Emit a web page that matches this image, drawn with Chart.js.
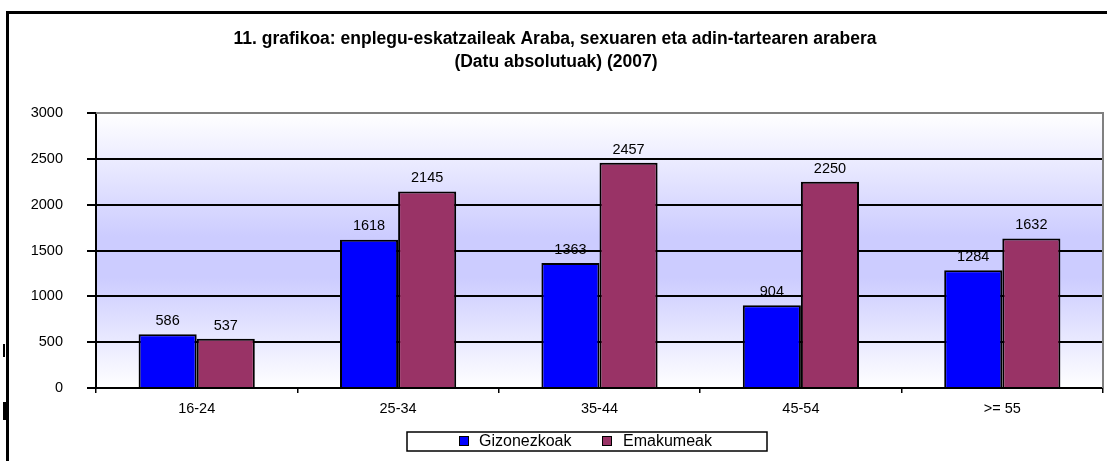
<!DOCTYPE html>
<html>
<head>
<meta charset="utf-8">
<script src="https://cdn.jsdelivr.net/npm/chart.js@4.4.1/dist/chart.umd.min.js"></script>
<style>
html,body{margin:0;padding:0;background:#fff;}
#wrap{width:1107px;height:461px;position:relative;}
</style>
</head>
<body>
<div id="wrap"><canvas id="c" width="1107" height="461"></canvas></div>
<script>
const titleLines = ["11. grafikoa: enplegu-eskatzaileak Araba, sexuaren eta adin-tartearen arabera", "(Datu absolutuak) (2007)"];
const categories = ["16-24", "25-34", "35-44", "45-54", ">= 55"];
const gizonezkoak = [586, 1618, 1363, 904, 1284];
const emakumeak = [537, 2145, 2457, 2250, 1632];
const seriesNames = ["Gizonezkoak", "Emakumeak"];
const seriesColors = ["#0000FF", "#993366"];
const yTicks = [0, 500, 1000, 1500, 2000, 2500, 3000];

const FONT = "'Liberation Sans', Arial, sans-serif";

const decor = {
  id: 'decor',
  beforeDraw(chart) {
    const {ctx, chartArea: a} = chart;
    ctx.save();
    const g = ctx.createLinearGradient(0, a.top, 0, a.bottom);
    g.addColorStop(0, '#FFFFFF');
    g.addColorStop(0.45, '#CCCCFF');
    g.addColorStop(0.6, '#CCCCFF');
    g.addColorStop(1, '#FFFFFF');
    ctx.fillStyle = g;
    ctx.fillRect(a.left, a.top, a.right - a.left, a.bottom - a.top);
    ctx.restore();
  },
  afterDatasetsDraw(chart) {
    const {ctx, chartArea: a} = chart;
    ctx.save();
    ctx.strokeStyle = '#808080';
    ctx.lineWidth = 2;
    ctx.beginPath();
    ctx.moveTo(a.left, a.top); ctx.lineTo(a.right, a.top); ctx.lineTo(a.right, a.bottom);
    ctx.stroke();
    ctx.fillStyle = '#000';
    ctx.font = '14.5px ' + FONT;
    ctx.textAlign = 'center';
    ctx.textBaseline = 'bottom';
    chart.data.datasets.forEach((ds, i) => {
      const meta = chart.getDatasetMeta(i);
      meta.data.forEach((bar, j) => {
        ctx.fillText(String(ds.data[j]), bar.x, bar.y - 6);
      });
    });
    ctx.restore();
  },
  afterDraw(chart) {
    const {ctx} = chart;
    ctx.save();
    ctx.strokeStyle = '#000';
    ctx.lineWidth = 3;
    ctx.beginPath();
    ctx.moveTo(1107, 12.5); ctx.lineTo(7.5, 12.5); ctx.lineTo(7.5, 461);
    ctx.stroke();
    ctx.fillStyle = '#000';
    ctx.fillRect(3, 344, 2, 13);
    ctx.fillRect(3, 402, 3, 18);
    ctx.font = 'bold 17.5px ' + FONT;
    ctx.textAlign = 'center';
    ctx.textBaseline = 'middle';
    ctx.fillText(titleLines[0], 555, 39);
    ctx.fillText(titleLines[1], 556, 62);
    ctx.lineWidth = 1.5;
    ctx.strokeStyle = '#000';
    ctx.strokeRect(407, 432, 360, 19);
    ctx.font = '16px ' + FONT;
    ctx.textAlign = 'left';
    const items = [[459, 479], [602, 623]];
    chart.data.datasets.forEach((ds, i) => {
      const [bx, tx] = items[i];
      ctx.fillStyle = ds.backgroundColor;
      ctx.fillRect(bx, 436, 9, 9);
      ctx.lineWidth = 1;
      ctx.strokeRect(bx + 0.5, 436.5, 9, 9);
      ctx.fillStyle = '#000';
      ctx.fillText(ds.label, tx, 442);
    });
    ctx.restore();
  }
};

new Chart(document.getElementById('c'), {
  type: 'bar',
  data: {
    labels: categories,
    datasets: [
      {label: seriesNames[0], data: gizonezkoak, backgroundColor: seriesColors[0], borderColor: '#000', borderWidth: 2},
      {label: seriesNames[1], data: emakumeak, backgroundColor: seriesColors[1], borderColor: '#000', borderWidth: 2}
    ]
  },
  options: {
    responsive: false,
    animation: false,
    devicePixelRatio: 1,
    layout: {padding: {top: 113, left: 0, right: 4, bottom: 43}},
    categoryPercentage: 0.577,
    barPercentage: 1.0,
    plugins: {legend: {display: false}, title: {display: false}, tooltip: {enabled: false}},
    scales: {
      x: {
        afterFit(s) { s.height = 30; },
        grid: {display: true, drawOnChartArea: false, drawTicks: true, tickLength: 5, color: '#000', lineWidth: 1.5, offset: true},
        border: {display: true, color: '#000', width: 2},
        ticks: {font: {size: 14.5, family: FONT}, color: '#000', padding: 7}
      },
      y: {
        min: 0, max: 3000,
        afterFit(s) { s.width = 96; },
        afterBuildTicks(s) { s.ticks = yTicks.map(v => ({value: v})); },
        grid: {color: '#000', lineWidth: 2, tickLength: 9},
        border: {display: true, color: '#000', width: 2},
        ticks: {font: {size: 14.5, family: FONT}, color: '#000', padding: 24, callback: (v) => String(v)}
      }
    }
  },
  plugins: [decor]
});
</script>
</body>
</html>
